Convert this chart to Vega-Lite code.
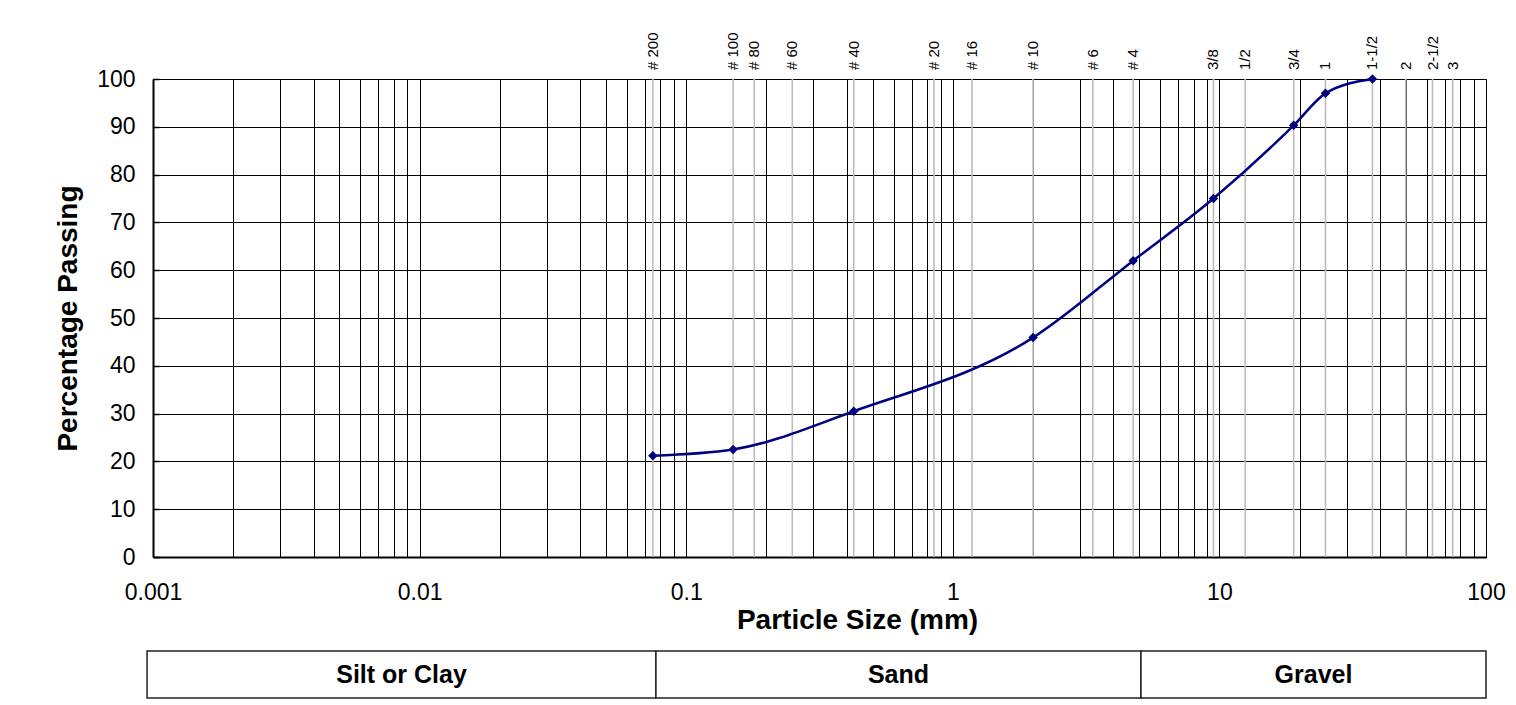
{
  "$schema": "https://vega.github.io/schema/vega-lite/v6.json",
  "padding": {"left": 54, "top": 31, "right": 20, "bottom": 5},
  "background": "white",
  "config": {"font": "Liberation Sans", "view": {"stroke": "black", "strokeWidth": 1}},
  "resolve": {"scale": {"x": "independent"}},
  "spacing": 15,
  "vconcat": [
    {
      "width": 1333,
      "height": 478,
      "encoding": {
        "x": {
          "field": "size",
          "type": "quantitative",
          "scale": {"type": "log", "domain": [0.001, 100], "nice": false},
          "axis": {
            "values": [0.001, 0.002, 0.003, 0.004, 0.005, 0.006, 0.007, 0.008, 0.009, 0.01, 0.02, 0.03, 0.04, 0.05, 0.06, 0.07, 0.08, 0.09, 0.1, 0.2, 0.3, 0.4, 0.5, 0.6, 0.7, 0.8, 0.9, 1, 2, 3, 4, 5, 6, 7, 8, 9, 10, 20, 30, 40, 50, 60, 70, 80, 90, 100],
            "format": "~g",
            "labelExpr": "indexof([0.001, 0.01, 0.1, 1, 10, 100], datum.value) >= 0 ? datum.label : ''",
            "title": "Particle Size (mm)",
            "titleFontSize": 28,
            "titleFontWeight": "bold",
            "titleColor": "black",
            "titlePadding": 2,
            "titleX": 704,
            "labelFontSize": 23,
            "labelColor": "black",
            "labelPadding": 24,
            "labelFlush": false,
            "labelOverlap": false,
            "ticks": false,
            "domainColor": "black",
            "domainWidth": 2,
            "grid": true,
            "gridColor": "black",
            "gridWidth": 1
          }
        }
      },
      "layer": [
        {
          "data": {"name": "sieves", "values": [
            {"sieve": "# 200", "size": 0.075},
            {"sieve": "# 100", "size": 0.15},
            {"sieve": "# 80", "size": 0.18},
            {"sieve": "# 60", "size": 0.25},
            {"sieve": "# 40", "size": 0.425},
            {"sieve": "# 20", "size": 0.85},
            {"sieve": "# 16", "size": 1.18},
            {"sieve": "# 10", "size": 2.0},
            {"sieve": "# 6", "size": 3.35},
            {"sieve": "# 4", "size": 4.75},
            {"sieve": "3/8", "size": 9.5},
            {"sieve": "1/2", "size": 12.5},
            {"sieve": "3/4", "size": 19.0},
            {"sieve": "1", "size": 25.0},
            {"sieve": "1-1/2", "size": 37.5},
            {"sieve": "2", "size": 50},
            {"sieve": "2-1/2", "size": 63},
            {"sieve": "3", "size": 75}
          ]},
          "mark": {"type": "rule", "color": "#bdbdbd", "strokeWidth": 1.6}
        },
        {
          "data": {"name": "sieves"},
          "mark": {"type": "text", "angle": 270, "align": "left", "baseline": "middle", "dx": 9, "fontSize": 15, "color": "black"},
          "encoding": {
            "y": {"datum": 100, "type": "quantitative"},
            "text": {"field": "sieve", "type": "nominal"}
          }
        },
        {
          "data": {"values": [
            {"size": 0.075, "passing": 21.2},
            {"size": 0.15, "passing": 22.5},
            {"size": 0.425, "passing": 30.5},
            {"size": 2.0, "passing": 45.9},
            {"size": 4.75, "passing": 62.0},
            {"size": 9.5, "passing": 75.0},
            {"size": 19.0, "passing": 90.3},
            {"size": 25.0, "passing": 97.0},
            {"size": 37.5, "passing": 100}
          ]},
          "mark": {
            "type": "line",
            "interpolate": "monotone",
            "color": "#000080",
            "strokeWidth": 2.5,
            "point": {"shape": "diamond", "size": 90, "filled": true, "color": "#000080"}
          },
          "encoding": {
            "y": {
              "field": "passing",
              "type": "quantitative",
              "scale": {"domain": [0, 100], "nice": false},
              "axis": {
                "values": [0, 5, 10, 15, 20, 25, 30, 35, 40, 45, 50, 55, 60, 65, 70, 75, 80, 85, 90, 95, 100],
                "labelExpr": "datum.value % 10 == 0 ? datum.label : ''",
                "title": "Percentage Passing",
                "titleFontSize": 28,
                "titleFontWeight": "bold",
                "titleColor": "black",
                "titlePadding": 14,
                "labelFontSize": 23,
                "labelColor": "black",
                "labelPadding": 24,
                "labelOverlap": false,
                "labelFlush": false,
                "tickSize": -6,
                "tickColor": "black",
                "tickWidth": 1.5,
                "domainColor": "black",
                "domainWidth": 2,
                "grid": true,
                "gridColor": "black",
                "gridWidth": 1,
                "gridOpacity": {"condition": {"test": "datum.value % 10 != 0", "value": 0}, "value": 1}
              }
            }
          }
        }
      ]
    },
    {
      "width": 1333,
      "height": 47,
      "view": {"stroke": null},
      "data": {"values": [
        {"zone": "Silt or Clay", "from": 0.00095, "to": 0.077},
        {"zone": "Sand", "from": 0.077, "to": 5.08},
        {"zone": "Gravel", "from": 5.08, "to": 100}
      ]},
      "transform": [{"calculate": "sqrt(datum.from * datum.to)", "as": "mid"}],
      "layer": [
        {
          "mark": {"type": "rect", "fill": "white", "stroke": "#222222", "strokeWidth": 1.5},
          "encoding": {
            "x": {"field": "from", "type": "quantitative", "scale": {"type": "log", "domain": [0.001, 100], "nice": false}, "axis": null},
            "x2": {"field": "to"}
          }
        },
        {
          "mark": {"type": "text", "fontSize": 25, "fontWeight": "bold", "color": "black"},
          "encoding": {
            "x": {"field": "mid", "type": "quantitative", "scale": {"type": "log", "domain": [0.001, 100], "nice": false}, "axis": null},
            "text": {"field": "zone", "type": "nominal"}
          }
        }
      ]
    }
  ]
}
